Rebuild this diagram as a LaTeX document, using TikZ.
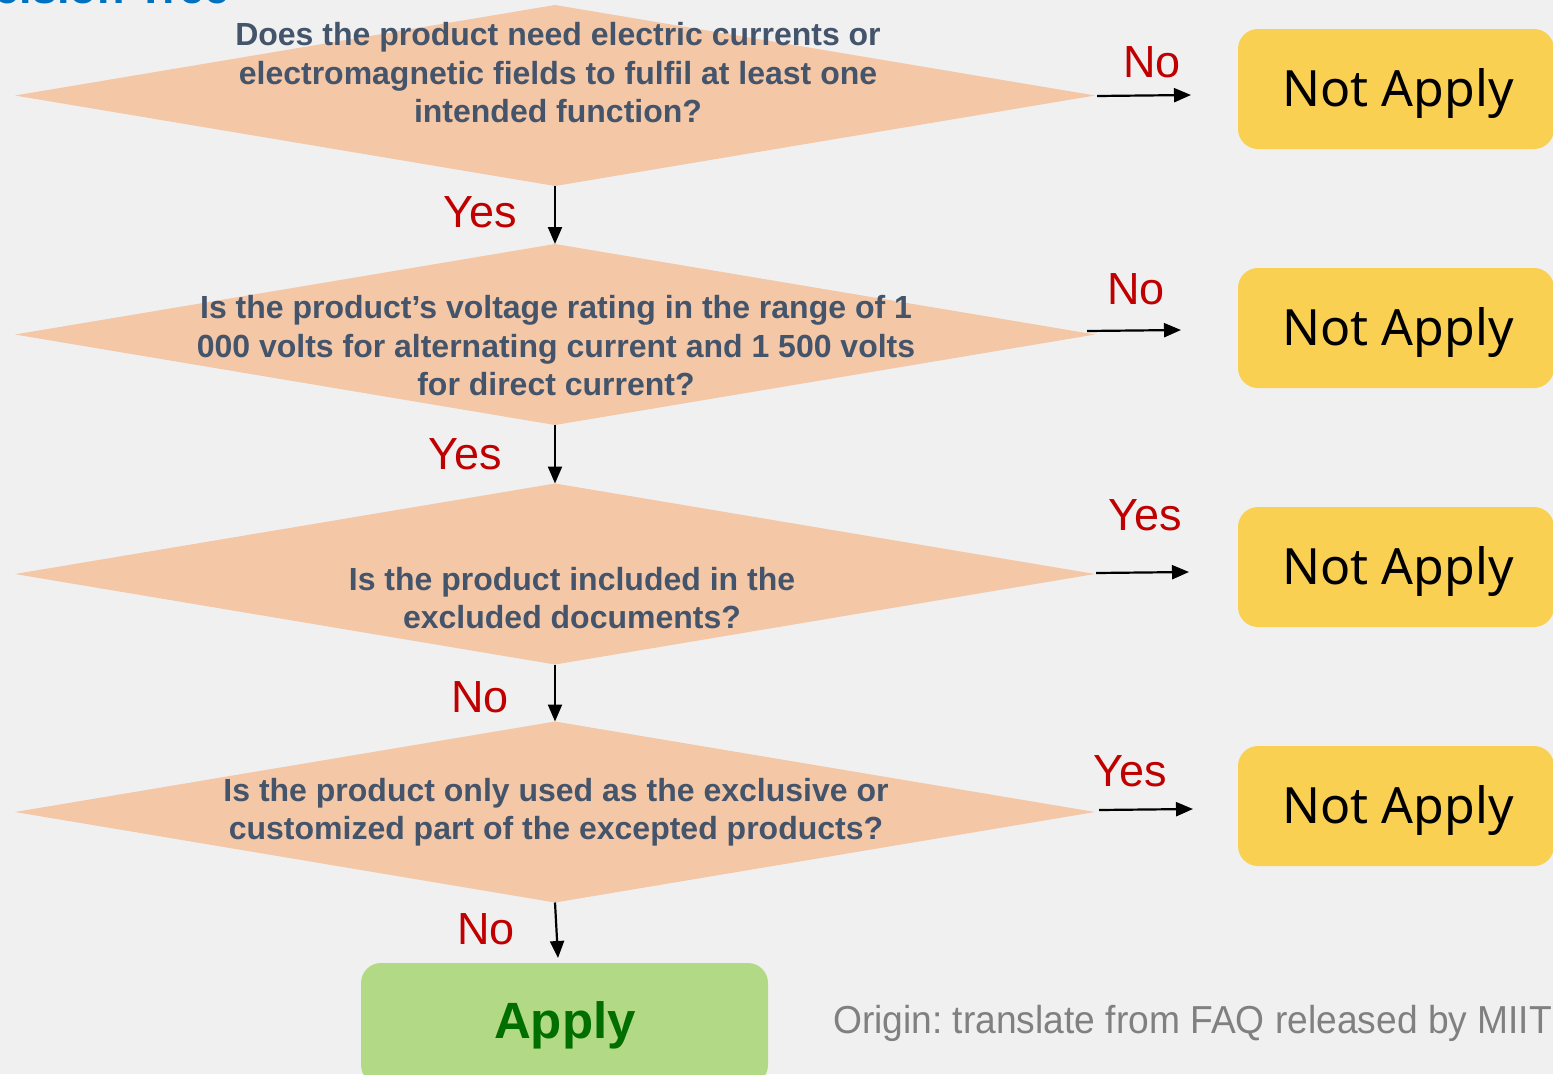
\documentclass[tikz,border=0pt]{standalone}
\usepackage{fontspec}
\setmainfont{Liberation Sans}
\newfontfamily\naf{Noto Sans}
\usetikzlibrary{arrows.meta}
\frenchspacing
\definecolor{bgc}{RGB}{240,240,240}
\definecolor{peach}{RGB}{244,199,167}
\definecolor{qtxt}{RGB}{68,84,106}
\definecolor{redl}{RGB}{192,0,0}
\definecolor{yel}{RGB}{250,208,82}
\definecolor{grn}{RGB}{178,218,134}
\definecolor{dgrn}{RGB}{0,110,0}
\definecolor{ttl}{RGB}{0,112,192}
\definecolor{gtxt}{RGB}{128,128,128}
\begin{document}
\begin{tikzpicture}[x=1pt,y=-1pt,
  dbox/.style={minimum width=1080pt,minimum height=181pt,inner sep=0pt,outer sep=0pt},
  qtext/.style={font=\fontsize{32}{38.5}\selectfont\bfseries,text=qtxt,align=center,inner sep=0pt},
  lbl/.style={font=\fontsize{45}{50}\selectfont,text=redl,inner sep=0pt},
  nabox/.style={fill=yel,rounded corners=20pt,minimum width=316pt,minimum height=120pt,inner sep=0pt},
  natext/.style={inner sep=0pt,font=\naf\fontsize{50}{56}\selectfont},
  arr/.style={line width=2.2pt,-{Triangle[length=17pt,width=14pt]}}]
\clip (0,0) rectangle (1553,1074);
\fill[bgc] (0,0) rectangle (1553,1074);
% title (clipped as in the reference)
\node[anchor=base west,inner sep=0pt,font=\fontsize{45}{50}\selectfont\bfseries,text=ttl] (title) at (-63,3) {Decision Tree};
% diamonds
\node[dbox] (d1) at (555,95.5) {};
\node[dbox] (d2) at (555,334.5) {};
\node[dbox] (d3) at (555,574) {};
\node[dbox] (d4) at (555,812) {};
\foreach \d in {d1,d2,d3,d4}
  \fill[peach] (\d.west) -- (\d.north) -- (\d.east) -- (\d.south) -- cycle;
\node[qtext] (t1) at (558,73) {Does the product need electric currents or\\electromagnetic fields to fulfil at least one\\intended function?};
\node[qtext] (t2) at (556,346) {Is the product’s voltage rating in the range of 1\\000 volts for alternating current and 1 500 volts\\for direct current?};
\node[qtext] (t3) at (572,598) {Is the product included in the\\excluded documents?};
\node[qtext] (t4) at (556,812) {Is the product only used as the exclusive or\\customized part of the excepted products?};
% result boxes
\node[nabox] (n1) at (1396,89) {};
\node[nabox] (n2) at (1396,328) {};
\node[nabox] (n3) at (1396,567) {};
\node[nabox] (n4) at (1396,806) {};
\node[natext] (n1t) at (1398,93) {Not Apply};
\node[natext] (n2t) at (1398,332) {Not Apply};
\node[natext] (n3t) at (1398,571) {Not Apply};
\node[natext] (n4t) at (1398,810) {Not Apply};
\node[fill=grn,rounded corners=20pt,minimum width=407pt,minimum height=122pt,inner sep=0pt] (ap) at (564.5,1024) {};
\node[font=\fontsize{51}{56}\selectfont\bfseries,text=dgrn,inner sep=0pt] (apt) at (565,1025) {Apply};
% vertical arrows
\draw[arr] (d1.south) -- (d2.north);
\draw[arr] (d2.south) -- (d3.north);
\draw[arr] (d3.south) -- (d4.north);
\coordinate (ae) at (558,958);
\draw[arr] (d4.south) -- (ae);
% horizontal arrows
\coordinate (s1) at (1097,96);  \coordinate (e1) at (1191,95);
\coordinate (s2) at (1087,331); \coordinate (e2) at (1181,330);
\coordinate (s3) at (1096,573); \coordinate (e3) at (1189,572);
\coordinate (s4) at (1099,810); \coordinate (e4) at (1193,809);
\draw[arr] (s1) -- (e1);
\draw[arr] (s2) -- (e2);
\draw[arr] (s3) -- (e3);
\draw[arr] (s4) -- (e4);
% labels
\node[lbl] (l1) at (480,212) {Yes};
\node[lbl] (l2) at (465,454) {Yes};
\node[lbl] (l3) at (480,697) {No};
\node[lbl] (l4) at (486,929) {No};
\node[lbl] (r1) at (1152,62) {No};
\node[lbl] (r2) at (1136,289) {No};
\node[lbl] (r3) at (1145,515) {Yes};
\node[lbl] (r4) at (1130,771) {Yes};
% origin
\node[anchor=west,inner sep=0pt,font=\fontsize{39}{44}\selectfont,text=gtxt,xscale=0.953] (org) at (833,1023) {Origin: translate from FAQ released by MIIT};
\end{tikzpicture}
\end{document}
